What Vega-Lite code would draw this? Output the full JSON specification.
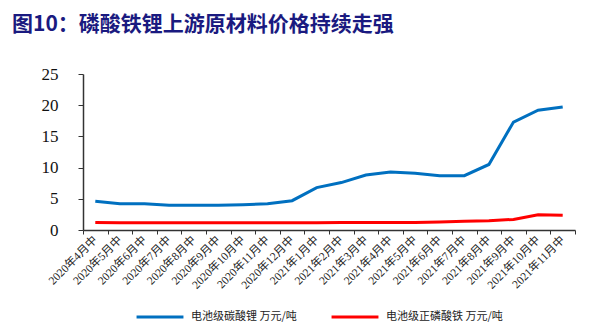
{
  "$schema": "https://vega.github.io/schema/vega-lite/v6.json",
  "width": 492,
  "height": 156,
  "autosize": {"type": "none"},
  "padding": {"left": 83, "top": 74, "right": 25, "bottom": 106},
  "background": "white",
  "title": {
    "text": "图10：磷酸铁锂上游原材料价格持续走强",
    "anchor": "start",
    "frame": "group",
    "dx": -71,
    "offset": 30,
    "font": "Noto Sans CJK SC",
    "fontSize": 21,
    "fontWeight": "bold",
    "color": "#1a1a80"
  },
  "data": {
    "values": [
      {"m": "2020年4月中", "s": "电池级碳酸锂 万元/吨", "v": 4.6},
      {"m": "2020年5月中", "s": "电池级碳酸锂 万元/吨", "v": 4.2},
      {"m": "2020年6月中", "s": "电池级碳酸锂 万元/吨", "v": 4.2},
      {"m": "2020年7月中", "s": "电池级碳酸锂 万元/吨", "v": 3.95},
      {"m": "2020年8月中", "s": "电池级碳酸锂 万元/吨", "v": 3.95},
      {"m": "2020年9月中", "s": "电池级碳酸锂 万元/吨", "v": 3.95},
      {"m": "2020年10月中", "s": "电池级碳酸锂 万元/吨", "v": 4.05},
      {"m": "2020年11月中", "s": "电池级碳酸锂 万元/吨", "v": 4.2},
      {"m": "2020年12月中", "s": "电池级碳酸锂 万元/吨", "v": 4.7},
      {"m": "2021年1月中", "s": "电池级碳酸锂 万元/吨", "v": 6.8},
      {"m": "2021年2月中", "s": "电池级碳酸锂 万元/吨", "v": 7.6},
      {"m": "2021年3月中", "s": "电池级碳酸锂 万元/吨", "v": 8.8},
      {"m": "2021年4月中", "s": "电池级碳酸锂 万元/吨", "v": 9.3},
      {"m": "2021年5月中", "s": "电池级碳酸锂 万元/吨", "v": 9.1},
      {"m": "2021年6月中", "s": "电池级碳酸锂 万元/吨", "v": 8.7},
      {"m": "2021年7月中", "s": "电池级碳酸锂 万元/吨", "v": 8.7},
      {"m": "2021年8月中", "s": "电池级碳酸锂 万元/吨", "v": 10.5},
      {"m": "2021年9月中", "s": "电池级碳酸锂 万元/吨", "v": 17.3},
      {"m": "2021年10月中", "s": "电池级碳酸锂 万元/吨", "v": 19.2},
      {"m": "2021年11月中", "s": "电池级碳酸锂 万元/吨", "v": 19.7},
      {"m": "2020年4月中", "s": "电池级正磷酸铁 万元/吨", "v": 1.2},
      {"m": "2020年5月中", "s": "电池级正磷酸铁 万元/吨", "v": 1.15},
      {"m": "2020年6月中", "s": "电池级正磷酸铁 万元/吨", "v": 1.15},
      {"m": "2020年7月中", "s": "电池级正磷酸铁 万元/吨", "v": 1.15},
      {"m": "2020年8月中", "s": "电池级正磷酸铁 万元/吨", "v": 1.15},
      {"m": "2020年9月中", "s": "电池级正磷酸铁 万元/吨", "v": 1.15},
      {"m": "2020年10月中", "s": "电池级正磷酸铁 万元/吨", "v": 1.15},
      {"m": "2020年11月中", "s": "电池级正磷酸铁 万元/吨", "v": 1.15},
      {"m": "2020年12月中", "s": "电池级正磷酸铁 万元/吨", "v": 1.15},
      {"m": "2021年1月中", "s": "电池级正磷酸铁 万元/吨", "v": 1.15},
      {"m": "2021年2月中", "s": "电池级正磷酸铁 万元/吨", "v": 1.2},
      {"m": "2021年3月中", "s": "电池级正磷酸铁 万元/吨", "v": 1.2},
      {"m": "2021年4月中", "s": "电池级正磷酸铁 万元/吨", "v": 1.2},
      {"m": "2021年5月中", "s": "电池级正磷酸铁 万元/吨", "v": 1.2},
      {"m": "2021年6月中", "s": "电池级正磷酸铁 万元/吨", "v": 1.3},
      {"m": "2021年7月中", "s": "电池级正磷酸铁 万元/吨", "v": 1.4},
      {"m": "2021年8月中", "s": "电池级正磷酸铁 万元/吨", "v": 1.5},
      {"m": "2021年9月中", "s": "电池级正磷酸铁 万元/吨", "v": 1.7},
      {"m": "2021年10月中", "s": "电池级正磷酸铁 万元/吨", "v": 2.45},
      {"m": "2021年11月中", "s": "电池级正磷酸铁 万元/吨", "v": 2.35}
    ]
  },
  "mark": {"type": "line", "strokeWidth": 3, "interpolate": "linear"},
  "encoding": {
    "x": {
      "field": "m",
      "type": "ordinal",
      "sort": null,
      "scale": {"paddingInner": 0, "paddingOuter": 0},
      "axis": {
        "title": null,
        "labelAngle": -45,
        "labelAlign": "right",
        "labelBaseline": "middle",
        "labelFont": "Liberation Serif, Noto Sans CJK SC",
        "labelFontSize": 11.5,
        "labelColor": "#222",
        "labelPadding": 4,
        "tickBand": "extent",
        "tickSize": 4,
        "tickColor": "#333",
        "domainColor": "#333",
        "domainWidth": 1.5,
        "grid": false
      }
    },
    "y": {
      "field": "v",
      "type": "quantitative",
      "scale": {"domain": [0, 25]},
      "axis": {
        "title": null,
        "values": [0, 5, 10, 15, 20, 25],
        "labelFont": "Liberation Serif",
        "labelFontSize": 17,
        "labelColor": "#111",
        "labelPadding": 20,
        "tickSize": 5,
        "tickColor": "#333",
        "domainColor": "#333",
        "domainWidth": 1.5,
        "grid": false
      }
    },
    "color": {
      "field": "s",
      "type": "nominal",
      "sort": ["电池级碳酸锂 万元/吨", "电池级正磷酸铁 万元/吨"],
      "scale": {"domain": ["电池级碳酸锂 万元/吨", "电池级正磷酸铁 万元/吨"], "range": ["#0070c0", "#ff0000"]},
      "legend": {
        "title": null,
        "orient": "none",
        "direction": "horizontal",
        "legendX": 52,
        "legendY": 218,
        "symbolType": "stroke",
        "symbolSize": 2200,
        "symbolStrokeWidth": 3,
        "labelFont": "Noto Sans CJK SC",
        "labelFontSize": 11,
        "labelColor": "#222",
        "labelOffset": 6,
        "columnPadding": 28
      }
    }
  },
  "config": {"view": {"stroke": null}}
}
